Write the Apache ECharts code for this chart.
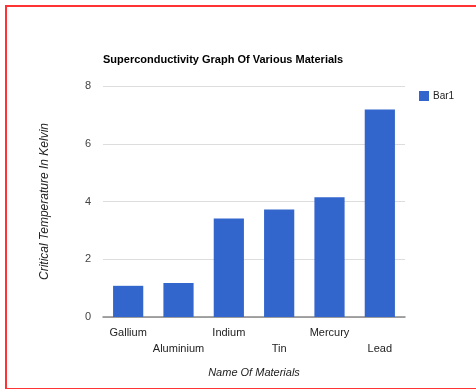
<!DOCTYPE html>
<html>
<head>
<meta charset="utf-8">
<script src="https://cdn.jsdelivr.net/npm/echarts@6/dist/echarts.min.js"></script>
<style>
  html, body { margin:0; padding:0; background:#fff; }
  #frame { position:absolute; left:5px; top:5px; width:480px; height:381px; border-left:2px solid #f33; border-top:2px solid #f33; border-bottom:2px solid #f33; }
  #chart { position:absolute; left:0; top:0; width:476px; height:389px; }
</style>
</head>
<body>
<div id="frame"></div>
<div id="chart"></div>
<script>
const categories = ['Gallium', 'Aluminium', 'Indium', 'Tin', 'Mercury', 'Lead'];
const bar1Values = [1.08, 1.18, 3.41, 3.72, 4.15, 7.19];
const yTicks = [0, 2, 4, 6, 8];
const titleText = 'Superconductivity Graph Of Various Materials';
const xAxisName = 'Name Of Materials';
const yAxisName = 'Critical Temperature In Kelvin';
const seriesName = 'Bar1';

const chart = echarts.init(document.getElementById('chart'), null, {renderer:'canvas'});
chart.setOption({
  backgroundColor: 'transparent',
  animation: false,
  textStyle: { fontFamily: 'Liberation Sans, Arial, sans-serif' },
  title: {
    text: titleText, left: 103, top: 54, padding: 0,
    textStyle: { fontSize: 11, fontWeight: 'bold', color: '#000', fontFamily: 'Liberation Sans, Arial, sans-serif' }
  },
  legend: {
    data: [seriesName], left: 414, top: 86, itemWidth: 10, itemHeight: 10, itemGap: 4,
    icon: 'rect',
    textStyle: { fontSize: 10, color: '#222', padding: [0,0,0,-1] }
  },
  grid: { left: 103, right: 71, top: 86, bottom: 72 },
  xAxis: {
    type: 'category', data: categories,
    name: xAxisName, nameLocation: 'middle', nameGap: 50,
    nameTextStyle: { fontStyle: 'italic', fontSize: 11, color: '#222' },
    axisLine: { lineStyle: { color: '#888', width: 1.5 } },
    axisTick: { show: false },
    axisLabel: {
      interval: 0, fontSize: 11, color: '#222', margin: 8, lineHeight: 16,
      formatter: (v, i) => (i % 2 === 1 ? '\n' + v : v)
    }
  },
  yAxis: {
    type: 'value', min: yTicks[0], max: yTicks[yTicks.length-1], interval: 2,
    name: yAxisName, nameLocation: 'middle', nameGap: 52, nameRotate: 90,
    nameTextStyle: { fontStyle: 'italic', fontSize: 12, color: '#222' },
    axisLine: { show: false }, axisTick: { show: false },
    axisLabel: { fontSize: 11, color: '#444', margin: 12 },
    splitLine: { lineStyle: { color: '#ddd' } }
  },
  series: [{
    name: seriesName, type: 'bar', data: bar1Values, barWidth: '60%',
    itemStyle: { color: '#3366cc' }
  }]
});
</script>
</body>
</html>
